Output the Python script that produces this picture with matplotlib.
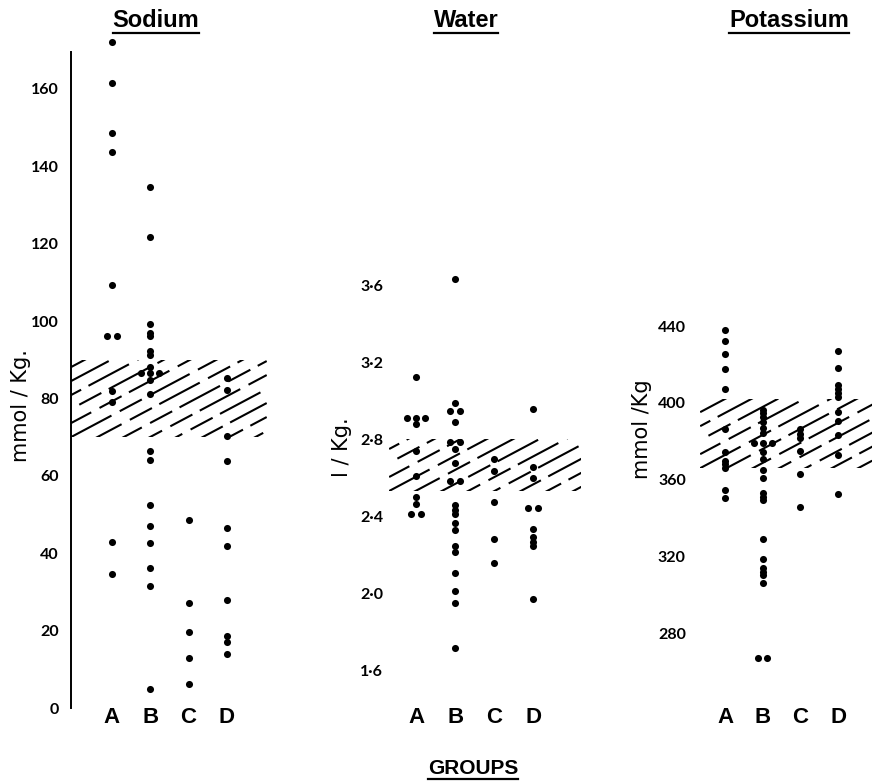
import matplotlib
matplotlib.use("Agg")
import matplotlib.pyplot as plt
import numpy as np
from matplotlib.lines import Line2D
from matplotlib.patches import Rectangle

GROUPS = ["A", "B", "C", "D"]

# values (repeated values are drawn side by side)
SODIUM_A = [172, 161.6, 148.5, 143.6, 109.3, 96, 96, 82, 79.1, 43, 34.6]
SODIUM_B = [134.6, 121.6, 99.2, 97, 96, 92.3, 91.2, 88.2, 86.5, 86.5, 86.5,
            84.8, 81.1, 66.4, 64.1, 52.5, 47, 42.6, 36.1, 31.5, 4.9]
SODIUM_C = [48.7, 27.2, 19.7, 13, 6.2]
SODIUM_D = [85.4, 82.3, 70.3, 63.8, 46.4, 41.9, 27.9, 18.7, 17.1, 13.9]
SODIUM_NORMAL = (70, 90)
SODIUM_TICKS = [0, 20, 40, 60, 80, 100, 120, 140, 160]

WATER_A = [3.12, 2.91, 2.91, 2.91, 2.88, 2.74, 2.61, 2.50, 2.46, 2.41, 2.41]
WATER_B = [3.63, 2.985, 2.947, 2.947, 2.89, 2.785, 2.785, 2.746, 2.678,
           2.583, 2.583, 2.455, 2.43, 2.41, 2.362, 2.327, 2.246, 2.211,
           2.102, 2.008, 1.946, 1.716]
WATER_C = [2.695, 2.636, 2.475, 2.279, 2.158]
WATER_D = [2.956, 2.656, 2.596, 2.44, 2.44, 2.331, 2.29, 2.267, 2.245, 1.967]
WATER_NORMAL = (2.53, 2.80)
WATER_TICKS = [1.6, 2.0, 2.4, 2.8, 3.2, 3.6]

POTASSIUM_A = [437.9, 432.3, 425.4, 417.6, 407.3, 386.4, 374.5, 369.5, 368,
               366, 354.8, 350.3]
POTASSIUM_B = [396.2, 394.5, 392.4, 390.2, 386.7, 384.1, 378.9, 378.9, 378.9,
               374.5, 370.6, 365, 361, 353.2, 351.1, 349.4, 328.9, 318.5,
               314.2, 312.1, 310.4, 306, 267.3, 267.3]
POTASSIUM_C = [386.5, 384, 381.5, 375, 363, 346]
POTASSIUM_D = [427, 418.3, 409.3, 407, 405, 403, 395.2, 390.8, 383.4, 372.6,
               352.7]
POTASSIUM_NORMAL = (366, 402)
POTASSIUM_TICKS = [280, 320, 360, 400, 440]

FIG_W, FIG_H = 872, 783
AX_TOP, AX_BOTTOM = 35, 712

TICK_FONT = "Lato"
LABEL_FONT = "DejaVu Sans"
BOLD_FONT = "Liberation Sans"


def px_rect(left, width):
    return [left / FIG_W, 1 - AX_BOTTOM / FIG_H, width / FIG_W,
            (AX_BOTTOM - AX_TOP) / FIG_H]


def spread(values, gap=0.24):
    xs, ys = [], []
    counts = {}
    for v in values:
        counts[v] = counts.get(v, 0) + 1
    for v, k in counts.items():
        offs = (np.arange(k) - (k - 1) / 2) * gap
        xs.extend(offs)
        ys.extend([v] * k)
    return np.array(xs), np.array(ys)


def draw_band(ax, lo, hi, x0, x1):
    # normal range: broken diagonal hatching clipped to the band
    rect = Rectangle((x0, lo), x1 - x0, hi - lo, fill=False, lw=0)
    ax.add_patch(rect)
    bbox = ax.get_window_extent()
    xmin, xmax = ax.get_xlim()
    ymin, ymax = ax.get_ylim()
    sx = (xmax - xmin) / bbox.width
    sy = (ymax - ymin) / bbox.height
    slope = np.tan(np.radians(28))
    step = 14
    width_px = (x1 - x0) / sx
    height_px = (hi - lo) / sy
    n_before = int(width_px * slope / step) + 2
    for i in range(-n_before, int(height_px / step) + 2):
        xs = np.array([x0, x1])
        ys = lo + i * step * sy + slope * (xs - x0) / sx * sy
        off = (i * 11) % 48
        line, = ax.plot(xs, ys, color="black", lw=1.5,
                        linestyle=(off, (22, 4.5, 12, 4)),
                        solid_capstyle="butt", dash_capstyle="butt", zorder=1)
        line.set_clip_path(rect)


def draw_panel(fig, left, width, xlim, ylim, groups, normal, band_x,
               ticks, tick_fmt, spine=False, pad=3):
    ax = fig.add_axes(px_rect(left, width))
    ax.set_xlim(*xlim)
    ax.set_ylim(*ylim)
    for s in ax.spines.values():
        s.set_visible(False)
    if spine:
        ax.spines["left"].set_visible(True)
        ax.spines["left"].set_linewidth(1.4)
        ax.spines["left"].set_bounds(ticks[0], ylim[1] - 4.4)
    draw_band(ax, normal[0], normal[1], band_x[0], band_x[1])
    for i, vals in enumerate(groups):
        dx, ys = spread(vals)
        ax.scatter(i + dx, ys, s=26, c="black", linewidths=0, zorder=3)
    ax.set_yticks(ticks)
    ax.set_yticklabels([tick_fmt(t) for t in ticks], fontfamily=TICK_FONT,
                       fontweight="bold", fontsize=11.5)
    ax.tick_params(axis="y", length=0, pad=pad)
    ax.set_xticks(range(len(GROUPS)))
    ax.set_xticklabels(GROUPS, fontfamily=BOLD_FONT, fontweight="bold",
                       fontsize=16)
    ax.tick_params(axis="x", length=0, pad=-3.5)
    return ax


def underlined(fig, x, y, s, size):
    t = fig.text(x / FIG_W, 1 - y / FIG_H, s, ha="center", va="baseline",
                 fontfamily=BOLD_FONT, fontweight="bold", fontsize=size)
    return t


def main():
    fig = plt.figure(figsize=(FIG_W / 100, FIG_H / 100), dpi=100)

    draw_panel(fig, 71, 198, (-1.07, 4.1), (-1.03, 173.9),
               [SODIUM_A, SODIUM_B, SODIUM_C, SODIUM_D], SODIUM_NORMAL,
               (-1.07, 4.04), SODIUM_TICKS, lambda t: f"{t}",
               spine=True, pad=9)
    draw_panel(fig, 386, 199, (-0.77, 4.33), (1.382, 4.899),
               [WATER_A, WATER_B, WATER_C, WATER_D], WATER_NORMAL,
               (-0.69, 4.24), WATER_TICKS,
               lambda t: f"{t:.1f}".replace(".", "\u00b7"), pad=2)
    draw_panel(fig, 690, 182, (-0.93, 3.9), (239.0, 591.6),
               [POTASSIUM_A, POTASSIUM_B, POTASSIUM_C, POTASSIUM_D],
               POTASSIUM_NORMAL, (-0.66, 4.2), POTASSIUM_TICKS,
               lambda t: f"{t}", pad=3)

    ylabel_kw = dict(rotation=90, ha="center", va="center",
                     fontfamily=LABEL_FONT, fontsize=15)
    fig.text(21 / FIG_W, 1 - 406 / FIG_H, "mmol / Kg.", **ylabel_kw)
    fig.text(342 / FIG_W, 1 - 447 / FIG_H, "l / Kg.", **ylabel_kw)
    fig.text(642 / FIG_W, 1 - 429 / FIG_H, "mmol /Kg", **ylabel_kw)

    titles = [
        underlined(fig, 156, 27, "Sodium", 17),
        underlined(fig, 466, 27, "Water", 17),
        underlined(fig, 789, 27, "Potassium", 17),
        underlined(fig, 473, 774, "GROUPS", 15),
    ]

    fig.canvas.draw()
    for t in titles:
        bb = t.get_window_extent()
        yl = bb.y0 - 0.5
        fig.add_artist(Line2D([bb.x0 / FIG_W, bb.x1 / FIG_W],
                              [yl / FIG_H, yl / FIG_H],
                              transform=fig.transFigure, color="black", lw=1.6))

    fig.savefig("out.png", dpi=100)
    plt.close(fig)


if __name__ == "__main__":
    main()
